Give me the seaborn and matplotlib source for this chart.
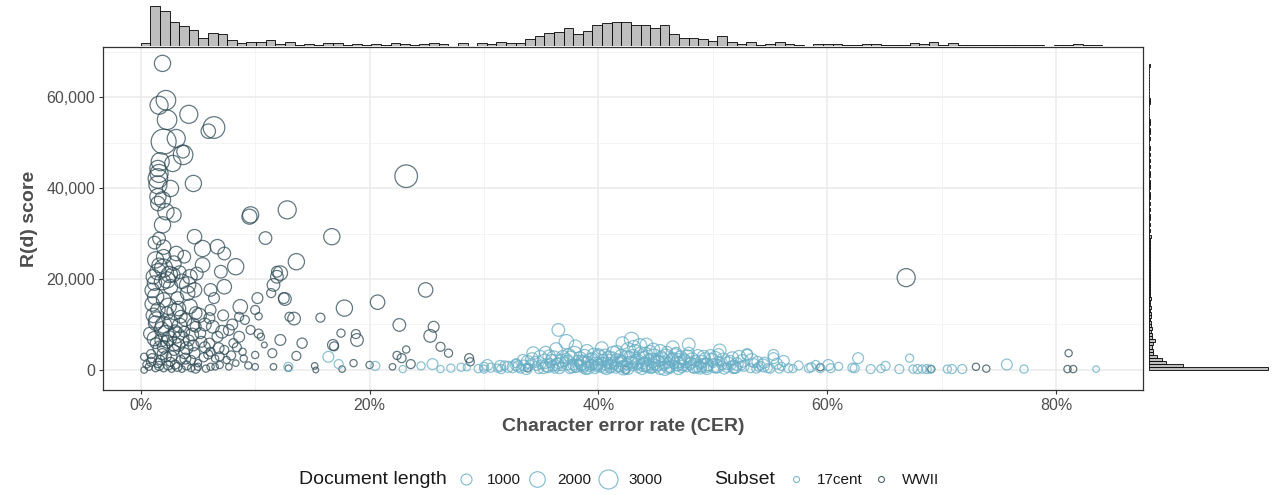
import numpy as np
import pandas as pd
import matplotlib
matplotlib.use("Agg")
import matplotlib.pyplot as plt
from matplotlib.lines import Line2D
from matplotlib.ticker import FuncFormatter
import seaborn as sns

# ---- scatter data: CER in percent, R(d) in thousands, document length ----
wwii_cer = [1.9, 2.2, 1.6, 4.2, 2.3, 6.4, 5.9, 2.0, 3.1, 3.7, 3.7, 2.8, 1.7, 1.5, 1.5, 1.6, 1.5, 4.6,
            2.6, 1.5, 1.9, 2.2, 2.9, 1.5, 9.6, 12.8, 23.2, 16.7, 13.6, 12.2, 12.6, 13.4, 15.7, 17.8,
            20.7, 24.9, 22.6, 25.6, 25.3, 17.5, 18.8, 18.9, 16.8, 16.9, 14.1, 13.6, 23.2, 22.4, 22.8,
            26.2, 26.9, 28.7, 28.8, 23.6, 18.6, 20.0, 22.0, 15.2, 15.3, 17.6, 12.9, 12.2, 66.9, 33.8,
            42.4, 59.4, 69.1, 73.0, 73.9, 81.1, 81.0, 81.5,
            9.5, 10.9, 4.7, 1.6, 1.9, 5.4, 6.7, 7.3, 8.3, 7.0, 1.3, 2.0, 3.1, 3.8, 5.4, 4.9, 1.5, 2.0,
            2.8, 1.2, 1.9, 2.6, 4.1, 4.7, 6.1, 7.3, 6.4, 8.7, 1.3, 2.0, 3.2, 4.1, 1.5, 2.3, 3.5, 4.8,
            6.1, 6.0, 1.3, 2.0, 3.1, 3.0, 3.8, 4.8, 5.2, 7.1, 7.7, 6.7, 8.6, 9.6, 10.3, 8.1, 8.4, 1.3,
            2.0, 2.9, 3.8, 4.7, 6.1, 7.3, 0.3, 1.0, 1.7, 2.6, 3.5, 4.4, 5.0, 0.3, 0.7, 1.3, 2.0, 2.7,
            3.6, 4.4, 5.0, 6.1, 6.5, 6.9, 7.7, 8.3, 10.0, 10.0, 11.5, 11.6, 10.8, 10.5, 10.2, 10.0,
            10.3, 8.6, 11.9, 11.9, 11.6, 11.4, 12.5, 13.0,
            0.8, 1.1, 2.4, 3.3, 1.8, 2.5, 3.3, 4.2, 5.6, 1.0, 2.5, 3.6, 0.9, 1.5, 2.2, 3.0, 4.0, 5.5,
            6.5, 7.5, 0.5, 9.0, 1.2, 2.0,
            1.0, 1.4, 1.8, 2.2, 2.6, 3.0, 3.4, 3.9, 4.3, 4.6, 5.1, 5.6, 6.3, 1.2, 1.7, 2.3, 2.9, 3.5,
            4.0, 4.5, 5.3, 6.0, 6.8, 1.1, 1.6, 2.3, 2.9, 3.4, 4.3, 0.9, 1.6, 2.4, 3.2, 4.8, 5.7, 1.9,
            2.7, 3.9, 4.6, 5.9, 6.9, 7.9, 8.9, 9.4, 7.2, 8.0, 9.1]
wwii_r = [67.4, 59.3, 58.2, 56.2, 55.0, 53.3, 52.5, 50.2, 50.9, 47.3, 48.0, 45.4, 45.8, 44.3, 42.1,
          43.2, 40.7, 41.0, 39.9, 38.1, 37.4, 34.8, 34.1, 36.6, 34.1, 35.2, 42.6, 29.3, 23.8, 21.3,
          15.6, 11.3, 11.5, 13.6, 14.9, 17.6, 9.9, 9.5, 7.5, 8.1, 7.9, 6.6, 5.5, 5.2, 5.9, 3.1, 4.5,
          3.2, 2.6, 5.1, 3.7, 2.6, 1.8, 1.3, 1.5, 1.1, 0.7, 0.9, 0.0, 0.2, 0.4, 6.6, 20.3, 0.4, 0.0,
          0.6, 0.2, 0.7, 0.3, 3.7, 0.2, 0.2,
          33.7, 29.0, 29.3, 28.9, 31.9, 26.7, 27.1, 25.6, 22.7, 21.6, 24.2, 24.9, 25.6, 24.9, 23.1,
          21.2, 21.6, 22.4, 20.9, 19.1, 19.4, 18.3, 18.7, 17.6, 17.6, 18.3, 15.8, 13.9, 16.1, 15.4,
          15.8, 16.9, 13.2, 12.5, 11.7, 12.5, 13.2, 11.4, 10.3, 9.9, 7.7, 8.5, 8.4, 9.5, 8.1, 8.4,
          8.8, 7.3, 7.3, 8.8, 8.0, 5.9, 5.0, 5.9, 5.1, 4.4, 3.7, 3.7, 4.0, 4.4, 2.9, 2.6, 2.2, 1.8,
          2.2, 2.2, 1.5, 0.0, 0.7, 0.4, 0.4, 0.2, 0.2, 0.4, 0.7, 0.7, 0.7, 1.1, 0.7, 1.5, 0.7, 3.3,
          3.7, 0.7, 5.5, 7.3, 15.8, 13.2, 11.8, 11.7, 20.5, 21.6, 18.7, 16.9, 15.8, 11.7,
          8.0, 12.0, 14.0, 13.5, 6.5, 7.0, 5.5, 6.5, 5.0, 17.5, 21.0, 19.5, 3.5, 1.5, 3.0, 1.2, 1.0,
          2.8, 2.5, 2.2, 1.2, 2.5, 28.0, 27.0,
          14.5, 11.0, 9.0, 8.0, 10.5, 12.8, 9.8, 11.0, 14.0, 10.0, 12.0, 10.0, 9.5, 6.9, 4.8, 6.2,
          5.8, 6.8, 4.8, 7.8, 6.2, 5.8, 4.8, 20.5, 23.0, 19.8, 23.5, 21.5, 20.5, 1.8, 0.9, 1.0, 0.7,
          0.3, 0.3, 3.5, 3.0, 2.5, 5.4, 3.4, 3.0, 3.2, 4.0, 1.0, 12.0, 10.0, 11.0]
wwii_len = [1860, 2700, 2300, 2300, 2700, 3300, 1470, 4400, 2300, 2700, 1130, 1860, 2300, 1860, 2700,
            2300, 2300, 1860, 1860, 1860, 1860, 1860, 1470, 1470, 1860, 2300, 3600, 1860, 1860, 1470,
            1130, 1130, 570, 1860, 1470, 1470, 1130, 830, 1130, 470, 570, 1130, 830, 570, 730, 570,
            370, 470, 570, 570, 470, 570, 470, 570, 370, 370, 300, 300, 230, 300, 300, 830, 2300, 400,
            400, 370, 370, 370, 370, 370, 370, 370,
            1600, 1130, 1470, 1130, 1860, 1860, 1470, 1130, 1860, 1130, 1860, 1470, 1470, 1130, 1470,
            1130, 1860, 2300, 1470, 1470, 1860, 1470, 1860, 1470, 1130, 1470, 830, 1470, 1860, 1470,
            1130, 1470, 1470, 1130, 1130, 1130, 830, 830, 1470, 1860, 1860, 1130, 830, 830, 830, 1130,
            830, 830, 830, 570, 570, 570, 570, 830, 1130, 830, 830, 830, 570, 570, 370, 570, 570, 570,
            570, 570, 370, 300, 370, 370, 370, 300, 300, 370, 370, 370, 300, 370, 300, 300, 300, 370,
            570, 300, 230, 370, 830, 570, 370, 570, 1130, 830, 1130, 570, 830, 570,
            1130, 1470, 1860, 1470, 1130, 1470, 1130, 830, 830, 1470, 1860, 1470, 570, 570, 830, 570,
            570, 570, 370, 370, 370, 370, 1130, 1470,
            1470, 1860, 1470, 1860, 1470, 1860, 1470, 1130, 1470, 1130, 1470, 1130, 1130, 1470, 1470,
            1130, 1470, 1860, 1130, 1130, 830, 830, 830, 1470, 1470, 1860, 1470, 1130, 1470, 570, 570,
            570, 570, 570, 370, 830, 830, 830, 830, 570, 570, 570, 370, 370, 830, 830, 570]

c17_cer = [16.4, 17.3, 12.9, 20.5, 22.9, 24.5, 25.5, 26.2, 27.1, 28.0, 28.5, 30.0, 30.0, 31.2, 31.5,
           32.1, 32.8, 32.8,
           33.2, 33.5, 33.9, 34.3, 34.5, 34.8, 35.0, 35.4, 35.6, 35.9, 36.2, 36.5, 36.5, 36.8, 37.2,
           37.2, 37.4, 37.5, 37.8, 38.0, 38.2, 38.5, 38.7, 39.0, 39.0, 39.2, 39.5, 39.7, 40.0, 40.0,
           40.2, 40.4, 40.6, 40.8, 41.0, 41.2, 41.4, 41.6, 41.8, 42.0, 42.1, 42.3, 42.5, 42.7, 42.9,
           43.0, 43.1, 43.3, 43.5, 43.7, 43.9, 44.1, 44.2, 44.4, 44.6, 44.8, 44.9, 45.1, 45.3, 45.5,
           45.7, 46.0, 46.1, 46.3, 46.5, 46.8, 46.9, 47.1, 47.3, 47.5, 47.9, 47.9, 48.0, 48.3, 48.5,
           48.8, 49.0, 49.3, 49.6, 49.8, 50.0, 50.3, 50.5, 50.8, 51.2, 51.5, 51.8, 52.3, 52.5, 52.7,
           53.0, 53.0, 53.3, 53.6, 54.0, 54.5, 54.8, 55.0, 55.3, 55.3, 55.8, 56.6, 57.5, 58.4, 58.6,
           59.4, 60.1, 60.3, 61.0, 62.2, 62.4, 62.7, 63.8, 64.7, 65.1, 66.3, 67.2, 67.5, 67.9, 68.3,
           68.7, 69.0, 70.5, 70.9, 71.8, 75.7, 77.2, 83.5,
           33.0, 33.7, 34.0, 34.6, 35.2, 35.8, 36.0, 36.6, 37.0, 37.7, 38.3, 38.9, 39.4, 39.9, 40.3,
           40.7, 41.1, 41.5, 41.9, 42.2, 42.6, 43.0, 43.4, 43.8, 44.0, 44.3, 44.7, 45.0, 45.4, 45.8,
           46.2, 46.6, 47.0, 47.4, 47.7, 48.1, 48.6, 49.1, 49.5, 50.1, 50.6, 51.0, 51.6, 52.0, 53.8,
           54.2, 56.0, 57.0, 59.0, 31.8, 30.6, 29.5,
           34.2, 34.9, 35.3, 35.7, 36.1, 36.4, 36.9, 37.3, 37.6, 37.9, 38.1, 38.4, 38.6, 38.8, 39.1,
           39.3, 39.6, 39.8, 40.1, 40.5, 40.6, 40.9, 41.1, 41.3, 41.6, 41.8, 42.0, 42.4, 42.6, 42.8,
           43.0, 43.2, 43.4, 43.6, 43.9, 44.1, 44.3, 44.5, 44.7, 44.9, 45.2, 45.4, 45.6, 45.9, 46.1,
           46.4, 46.7, 46.9, 47.2, 47.6, 47.8, 48.2, 48.4, 48.7, 49.0, 49.2, 49.5, 49.9, 50.2, 50.4,
           50.9, 51.3, 51.7, 52.1, 52.6, 53.4, 53.9, 54.4, 55.6, 56.2, 33.8, 33.4, 32.5, 31.4, 30.3,
           36.3, 38.0, 40.3, 46.5, 50.6, 49.4, 47.0, 44.0, 41.0, 38.7, 36.8, 35.5, 42.2, 45.8, 48.9,
           51.9]
c17_r = [2.9, 1.3, 0.7, 0.9, 0.2, 0.9, 1.3, 0.2, 0.4, 0.6, 0.6, 0.7, 0.2, 0.4, 0.2, 0.7, 1.1, 1.5,
         0.3, 1.0, 0.5, 3.7, 1.8, 0.2, 1.2, 3.8, 0.6, 2.2, 0.3, 8.8, 1.5, 0.8, 6.2, 2.5, 3.3, 0.2,
         1.2, 0.5, 2.0, 1.0, 0.3, 4.2, 1.8, 0.7, 2.6, 0.2, 3.5, 1.2, 0.5, 2.2, 0.9, 1.6, 0.3, 2.8,
         1.1, 4.0, 0.6, 1.9, 5.9, 0.2, 1.3, 3.0, 6.7, 0.8, 5.1, 2.2, 0.4, 3.7, 1.5, 0.7, 5.6, 2.4,
         0.2, 4.5, 1.2, 0.5, 2.0, 3.0, 0.9, 4.0, 1.6, 0.3, 2.6, 3.8, 0.8, 1.8, 0.4, 2.4, 5.6, 3.8,
         1.0, 0.3, 2.0, 1.2, 0.5, 2.6, 0.8, 3.3, 1.5, 0.3, 3.5, 1.0, 0.5, 2.0, 0.2, 2.9, 1.0, 0.9,
         3.5, 3.3, 0.4, 1.5, 0.7, 1.6, 0.4, 0.3, 3.3, 2.6, 0.3, 0.4, 1.0, 0.4, 0.6, 0.4, 1.1, 0.4,
         0.8, 0.5, 0.4, 2.6, 0.2, 0.3, 0.9, 0.2, 2.6, 0.2, 0.2, 0.2, 0.2, 0.2, 0.2, 0.2, 0.2, 1.2,
         0.2, 0.2,
         0.8, 0.2, 1.2, 0.9, 0.4, 1.5, 0.9, 0.4, 1.8, 0.6, 1.4, 0.2, 1.2, 0.8, 1.8, 0.2, 1.5, 0.5,
         2.4, 0.9, 0.2, 1.6, 1.0, 0.2, 1.8, 1.0, 0.6, 2.6, 0.2, 1.4, 0.7, 1.2, 0.2, 1.0, 0.6, 1.6,
         0.6, 1.5, 0.2, 0.6, 1.8, 0.3, 1.0, 0.5, 0.3, 1.0, 0.8, 0.3, 1.2, 1.0, 0.5, 0.3,
         2.4, 2.9, 1.9, 3.0, 2.6, 1.2, 2.9, 1.6, 2.8, 3.6, 0.9, 2.6, 1.7, 3.1, 0.5, 2.1, 3.4, 1.4,
         2.8, 0.7, 3.2, 2.5, 0.9, 3.6, 2.2, 1.2, 3.1, 2.6, 4.4, 1.6, 2.9, 4.2, 1.9, 5.3, 2.7, 3.4,
         0.8, 4.0, 2.1, 3.2, 1.5, 4.2, 2.4, 3.0, 0.6, 2.2, 3.3, 1.4, 2.8, 1.9, 3.0, 2.4, 0.9, 3.1,
         1.8, 2.9, 1.2, 2.2, 2.7, 0.8, 2.3, 1.5, 2.6, 1.3, 2.0, 2.2, 1.8, 1.0, 1.4, 2.0, 1.8, 2.2,
         0.6, 0.9, 1.1, 4.6, 5.2, 4.8, 5.0, 4.3, 1.0, 2.0, 1.2, 1.8, 1.3, 2.0, 1.0, 0.5, 0.4, 0.5,
         0.7]
c17_len = [830, 570, 570, 570, 370, 470, 830, 370, 470, 470, 370, 570, 470, 470, 570, 830, 830, 570,
           570, 830, 470, 1130, 830, 570, 570, 1130, 830, 830, 570, 1130, 830, 570, 1470, 830, 1130,
           570, 830, 570, 830, 830, 570, 1130, 830, 570, 830, 570, 830, 830, 570, 830, 570, 830,
           570, 830, 570, 1130, 570, 830, 1130, 570, 830, 830, 1470, 570, 1130, 830, 570, 1130, 830,
           570, 1130, 830, 570, 1130, 830, 570, 830, 830, 570, 830, 830, 570, 830, 830, 570, 830,
           570, 830, 1130, 830, 570, 570, 830, 570, 570, 830, 570, 830, 570, 570, 830, 570, 570, 830,
           570, 1130, 570, 830, 830, 830, 570, 570, 570, 830, 570, 570, 830, 830, 570, 570, 570, 570,
           570, 570, 830, 570, 470, 570, 570, 830, 570, 470, 570, 570, 470, 470, 570, 470, 570, 470,
           470, 570, 570, 830, 470, 300,
           830, 830, 570, 570, 830, 570, 830, 830, 570, 830, 570, 830, 830, 830, 570, 830, 830, 830,
           570, 830, 830, 830, 570, 830, 570, 830, 830, 570, 830, 830, 830, 570, 830, 830, 570, 830,
           830, 570, 830, 830, 570, 830, 570, 830, 570, 470, 470, 470, 470, 570, 570, 470,
           1130, 1130, 1470, 1130, 1470, 1130, 1130, 1470, 1130, 1470, 1130, 1130, 1470, 1130, 1130,
           1470, 1130, 1130, 1470, 1130, 1130, 1470, 1130, 1470, 1130, 1470, 1130, 1470, 1470, 1130,
           1470, 1130, 1470, 1470, 1130, 1470, 1130, 1130, 1470, 1130, 1470, 1130, 1130, 1470, 1130,
           1130, 1130, 1470, 1130, 1130, 1130, 1130, 1470, 1130, 1130, 1130, 1130, 1130, 1130, 1130,
           1130, 1130, 1130, 1130, 1130, 1130, 830, 1130, 830, 830, 1130, 830, 830, 830, 830,
           1130, 1130, 1130, 1130, 1130, 1470, 1470, 1470, 1470, 1470, 1130, 1130, 1470, 1470, 1130,
           1130]

# ---- marginal histogram counts ----
cer_bin_edges = np.linspace(0, 0.84, 101)
cer_counts = [3, 45, 39, 27, 22, 18, 9, 15, 13, 7, 3, 5, 5, 7, 2, 5, 1, 2, 1, 3, 3, 1, 2, 1, 2, 1,
              3, 2, 1, 2, 3, 2, 0, 3, 0, 3, 2, 5, 3, 3, 8, 11, 15, 16, 20, 13, 17, 23, 26, 27, 27,
              23, 23, 20, 23, 13, 9, 9, 8, 6, 11, 4, 2, 4, 1, 2, 4, 2, 1, 0, 2, 2, 2, 1, 1, 2, 2, 1,
              1, 1, 3, 2, 4, 1, 3, 1, 1, 1, 1, 1, 1, 1, 1, 1, 0, 1, 1, 2, 1, 1]
r_bin_edges = np.linspace(0, 67300, 101)
r_counts = [354, 102, 51, 39, 24, 12, 12, 9, 12, 18, 9, 9, 6, 9, 6, 6, 3, 6, 6, 3, 6, 3, 3, 6, 3,
            3, 3, 3, 3, 3, 3, 3, 3, 3, 3, 3, 3, 3, 3, 3, 3, 3, 3, 6, 0, 3, 0, 3, 0, 3, 3, 0, 3, 0,
            3, 0, 3, 3, 0, 3, 3, 3, 0, 3, 3, 0, 3, 0, 3, 0, 3, 0, 3, 0, 0, 3, 0, 3, 3, 0, 3, 3, 0,
            0, 0, 0, 0, 3, 3, 0, 0, 0, 0, 0, 0, 0, 0, 0, 0, 3]

c17_color = "#67AEC6"
wwii_color = "#2F4B55"
edge_grey = "#333333"
text_grey = "#4D4D4D"

df = pd.concat([
    pd.DataFrame({"cer": np.array(wwii_cer) / 100, "r": np.array(wwii_r) * 1000,
                  "length": wwii_len, "subset": "WWII"}),
    pd.DataFrame({"cer": np.array(c17_cer) / 100, "r": np.array(c17_r) * 1000,
                  "length": c17_len, "subset": "17cent"}),
], ignore_index=True)

cer_hist = pd.DataFrame({"cer": (cer_bin_edges[:-1] + cer_bin_edges[1:]) / 2, "n": cer_counts})
r_hist = pd.DataFrame({"r": (r_bin_edges[:-1] + r_bin_edges[1:]) / 2, "n": r_counts})

sns.set_style("white")
plt.rcParams["font.family"] = ["Liberation Sans", "DejaVu Sans"]

W, H = 1273, 495
fig = plt.figure(figsize=(W / 100, H / 100), dpi=100)

def px_axes(left, top, right, bottom):
    return fig.add_axes([left / W, 1 - bottom / H, (right - left) / W, (bottom - top) / H])

ax = px_axes(103, 47, 1143, 390)
ax_top = px_axes(103, 4, 1143, 46)
ax_right = px_axes(1149, 47, 1272, 390)

xlim = (-0.033, 0.876)
ylim = (-4400, 71000)

# main scatter (hollow circles, area proportional to document length)
sns.scatterplot(data=df, x="cer", y="r", hue="subset", size="length",
                palette={"17cent": c17_color, "WWII": wwii_color},
                sizes=(0, 440), size_norm=(0, 6000), alpha=0.75,
                linewidth=0.9, legend=False, ax=ax)
coll = ax.collections[0]
coll.set_edgecolors(coll.get_facecolors())
coll.set_facecolors("none")

ax.set_xlim(*xlim)
ax.set_ylim(*ylim)
ax.set_xticks([0, 0.2, 0.4, 0.6, 0.8])
ax.set_xticks([0.1, 0.3, 0.5, 0.7], minor=True)
ax.set_yticks([0, 20000, 40000, 60000])
ax.set_yticks([10000, 30000, 50000, 70000], minor=True)
ax.xaxis.set_major_formatter(FuncFormatter(lambda v, p: f"{v * 100:.0f}%"))
ax.yaxis.set_major_formatter(FuncFormatter(lambda v, p: f"{v:,.0f}"))
ax.grid(True, which="major", color="#EBEBEB", linewidth=1.1)
ax.grid(True, which="minor", color="#F2F2F2", linewidth=0.6)
ax.set_axisbelow(True)
for s in ax.spines.values():
    s.set_color(edge_grey)
    s.set_linewidth(0.9)
ax.tick_params(which="major", length=3, width=0.8, color=edge_grey,
               labelcolor=text_grey, labelsize=11.5, pad=2.5,
               bottom=True, left=True)
ax.tick_params(which="minor", length=0)
ax.set_xlabel("Character error rate (CER)", fontsize=14, fontweight="bold",
              color=text_grey, labelpad=4)
ax.set_ylabel("R(d) score", fontsize=14, fontweight="bold", color=text_grey, labelpad=6)

# top marginal histogram
sns.histplot(data=cer_hist, x="cer", weights="n", bins=list(cer_bin_edges), ax=ax_top,
             color="#BEBEBE", edgecolor="black", linewidth=0.6, alpha=1)
ax_top.set_xlim(*xlim)
ax_top.set_ylim(0, max(cer_counts) * 1.04)
ax_top.axis("off")

# right marginal histogram
sns.histplot(data=r_hist, y="r", weights="n", bins=list(r_bin_edges), ax=ax_right,
             color="#BEBEBE", edgecolor="black", linewidth=0.6, alpha=1)
ax_right.set_ylim(*ylim)
ax_right.set_xlim(0, max(r_counts) * 1.03)
ax_right.axis("off")

# legends
def circ(color, ms):
    return Line2D([], [], linestyle="", marker="o", markersize=ms,
                  markerfacecolor="none", markeredgecolor=color, markeredgewidth=0.8, alpha=0.85)

size_levels = [1000, 2000, 3000]
size_handles = [circ(c17_color, 7.92 * np.sqrt(v / 1000)) for v in size_levels]
leg1 = fig.legend(size_handles, [str(v) for v in size_levels], ncol=3, frameon=False,
                  loc="center left", bbox_to_anchor=(455 / W, 1 - 480 / H),
                  fontsize=11, handlelength=1.5, handletextpad=0.6, columnspacing=0.3,
                  borderpad=0, borderaxespad=0)
for t in leg1.get_texts():
    t.set_color("#1A1A1A")
fig.text(299 / W, 1 - 480 / H, "Document length", fontsize=14, va="center", ha="left",
         color="#1A1A1A")

subset_levels = ["17cent", "WWII"]
subset_handles = [circ(c17_color, 4.3), circ(wwii_color, 4.3)]
leg2 = fig.legend(subset_handles, subset_levels, ncol=2, frameon=False,
                  loc="center left", bbox_to_anchor=(785 / W, 1 - 480 / H),
                  fontsize=11, handlelength=1.5, handletextpad=0.6, columnspacing=0.45,
                  borderpad=0, borderaxespad=0)
for t in leg2.get_texts():
    t.set_color("#1A1A1A")
fig.text(714 / W, 1 - 480 / H, "Subset", fontsize=14, va="center", ha="left", color="#1A1A1A")

fig.savefig("out.png", dpi=100)
